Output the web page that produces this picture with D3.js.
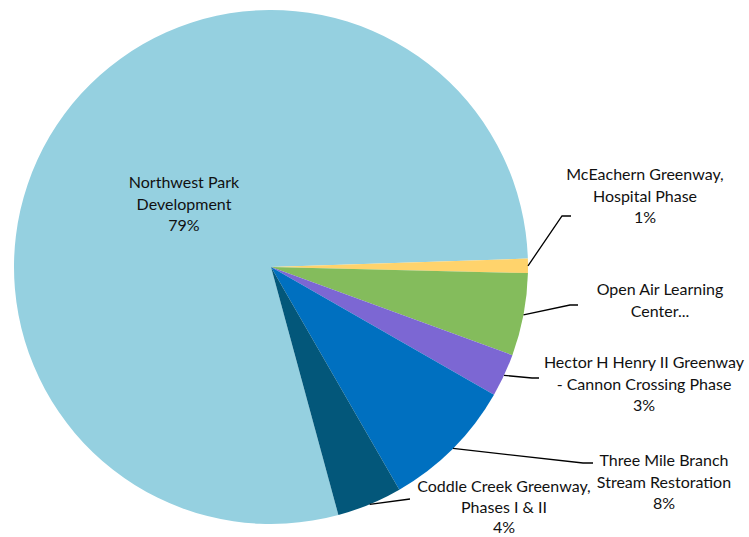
<!DOCTYPE html>
<html>
<head>
<meta charset="utf-8">
<script src="https://cdn.jsdelivr.net/npm/d3@7"></script>
<style>
  body { margin: 0; background: #fff; }
  text { font-family: Lato, "Open Sans", sans-serif; font-size: 16px; fill: #111; }
</style>
</head>
<body>
<div id="pie"></div>
<script>
// slices in drawing order (clockwise)
const names = [
    ["Northwest Park", "Development"],
    ["McEachern Greenway,", "Hospital Phase"],
    ["Open Air Learning", "Center..."],
    ["Hector H Henry II Greenway", "- Cannon Crossing Phase"],
    ["Three Mile Branch", "Stream Restoration"],
    ["Coddle Creek Greenway,", "Phases I & II"]
];
const values = [78.7, 0.9, 5.2, 2.7, 8.4, 4.1];
const pctLabels = ["79%", "1%", null, "3%", "8%", "4%"];
const colors = ["#95d0e0", "#ffd36c", "#84bc5c", "#7c67d3", "#0070c0", "#03577a"];

const width = 749, height = 537;
const cx = 271, cy = 267, radius = 257;

const svg = d3.select("#pie").append("svg").attr("width", width).attr("height", height);
const g = svg.append("g").attr("transform", `translate(${cx},${cy})`);

const pie = d3.pie().sort(null).value(d => d)
    .startAngle(164.8 * Math.PI / 180)
    .endAngle((164.8 + 360) * Math.PI / 180);
const arcs = pie(values);
const arc = d3.arc().innerRadius(0).outerRadius(radius);

g.selectAll("path.slice")
    .data(arcs)
    .enter()
    .append("path")
    .attr("class", "slice")
    .attr("d", arc)
    .attr("fill", (d, i) => colors[i]);

// label layout: text block centre x / first line baseline, line gap, and leader elbow
const layout = [
    { x: 184, y: 188, gap: 21.5, elbow: null },
    { x: 645, y: 180, gap: 21.5, elbow: [562, 216], end: 571 },
    { x: 660, y: 295, gap: 21.5, elbow: [570, 305], end: 578 },
    { x: 644, y: 368, gap: 21.5, elbow: [532, 378], end: 539 },
    { x: 664, y: 466, gap: 21.5, elbow: [583, 463], end: 593 },
    { x: 504, y: 492, gap: 20.5, elbow: [410, 499], end: 410 }
];

arcs.forEach((d, i) => {
    const L = layout[i];
    const lines = names[i].slice();
    if (pctLabels[i]) lines.push(pctLabels[i]);
    const t = svg.append("text").attr("text-anchor", "middle");
    lines.forEach((s, k) => {
        t.append("tspan").attr("x", L.x).attr("y", L.y + k * L.gap).text(s);
    });
    if (L.elbow) {
        const mid = (d.startAngle + d.endAngle) / 2;
        const sx = cx + radius * Math.sin(mid), sy = cy - radius * Math.cos(mid);
        svg.append("polyline")
            .attr("points", `${sx},${sy} ${L.elbow[0]},${L.elbow[1]} ${L.end},${L.elbow[1]}`)
            .attr("fill", "none")
            .attr("stroke", "#000")
            .attr("stroke-width", 1.3);
    }
});
</script>
</body>
</html>
